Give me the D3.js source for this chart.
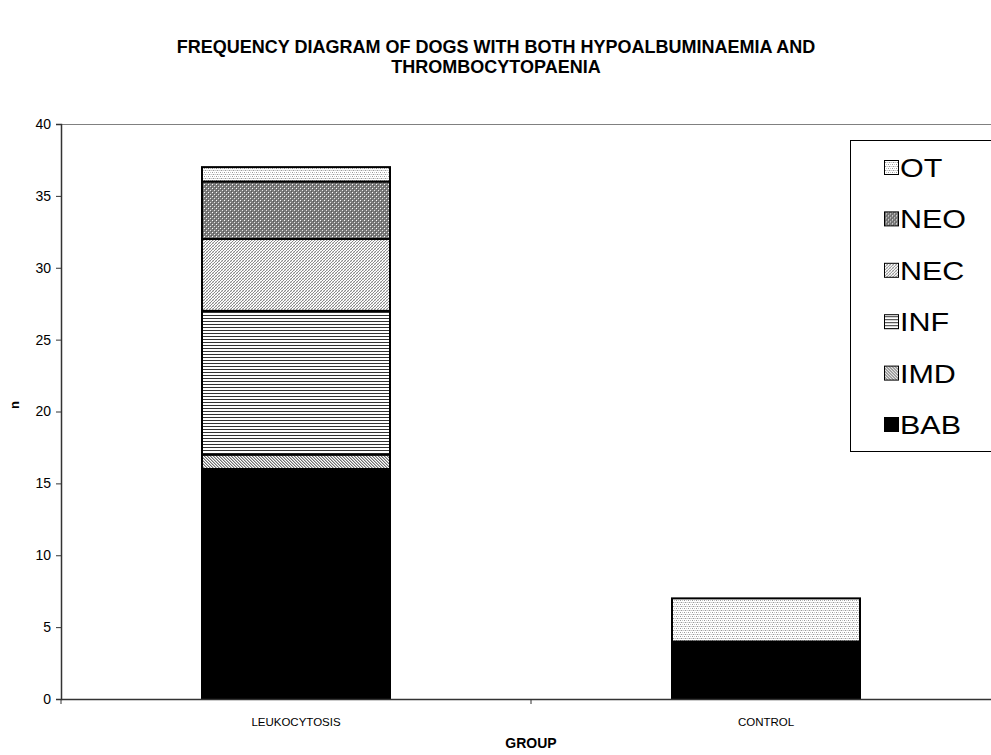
<!DOCTYPE html>
<html>
<head>
<meta charset="utf-8">
<script src="https://cdn.jsdelivr.net/npm/d3@7"></script>
<style>
  html, body { margin: 0; padding: 0; background: #fff; }
  svg { display: block; font-family: "Liberation Sans", Arial, sans-serif; }
</style>
</head>
<body>
<svg id="chart" width="991" height="755"></svg>
<script>
// Diagnosis groups, stacked from the bottom up
const groups = ["LEUKOCYTOSIS", "CONTROL"];
const diagnoses = ["BAB", "IMD", "INF", "NEC", "NEO", "OT"];
const BAB = [16, 4];
const IMD = [1, 0];
const INF = [10, 0];
const NEC = [5, 0];
const NEO = [4, 0];
const OT  = [1, 3];
const yTicks = [0, 5, 10, 15, 20, 25, 30, 35, 40];

const seriesValues = { BAB, IMD, INF, NEC, NEO, OT };
const rows = groups.map((g, i) => {
  const r = { group: g };
  diagnoses.forEach(d => { r[d] = seriesValues[d][i]; });
  return r;
});

const svg = d3.select("#chart");
const defs = svg.append("defs");

// Monochrome fill patterns built pixel by pixel
function pixelPattern(id, size, bg, pixels) {
  const p = defs.append("pattern")
    .attr("id", id)
    .attr("patternUnits", "userSpaceOnUse")
    .attr("width", size).attr("height", size);
  p.append("rect").attr("width", size).attr("height", size).attr("fill", bg);
  pixels.forEach(([x, y, c]) => {
    p.append("rect").attr("x", x).attr("y", y).attr("width", 1).attr("height", 1)
      .attr("fill", c).attr("shape-rendering", "crispEdges");
  });
}
pixelPattern("pat-OT", 4, "#ffffff", [[0,0,"#9a9a9a"],[2,0,"#c8c8c8"],[1,2,"#9a9a9a"],[3,2,"#c8c8c8"],[0,2,"#e0e0e0"],[2,2,"#e0e0e0"]]);
pixelPattern("pat-NEO", 4, "#7c7c7c", [[0,0,"#ffffff"],[2,2,"#e6e6e6"],[1,1,"#5a5a5a"],[3,3,"#5a5a5a"]]);
pixelPattern("pat-NEC", 3, "#ffffff", [[2,0,"#8a8a8a"],[1,1,"#8a8a8a"],[0,2,"#8a8a8a"],[0,0,"#d8d8d8"],[2,2,"#d8d8d8"]]);
pixelPattern("pat-IMD", 3, "#ffffff", [[0,0,"#707070"],[1,1,"#707070"],[2,2,"#707070"],[1,0,"#b8b8b8"],[2,1,"#b8b8b8"],[0,2,"#b8b8b8"]]);
pixelPattern("pat-INF", 3, "#ffffff", [[0,0,"#333"],[1,0,"#333"],[2,0,"#333"]]);
const fills = {
  BAB: "#000000",
  IMD: "url(#pat-IMD)",
  INF: "url(#pat-INF)",
  NEC: "url(#pat-NEC)",
  NEO: "url(#pat-NEO)",
  OT:  "url(#pat-OT)"
};

const plot = { left: 61, top: 124, right: 1001, bottom: 699 };

const x = d3.scaleBand()
  .domain(groups)
  .range([plot.left, plot.right])
  .paddingInner(0.6).paddingOuter(0.3);
const y = d3.scaleLinear().domain([0, 40]).range([plot.bottom, plot.top]);

// Plot frame (top edge)
svg.append("line")
  .attr("x1", plot.left).attr("x2", plot.right)
  .attr("y1", plot.top + 0.5).attr("y2", plot.top + 0.5)
  .attr("stroke", "#808080").attr("stroke-width", 1);

// Stacked bars
const stack = d3.stack().keys(diagnoses)(rows);
const layer = svg.append("g").selectAll("g").data(stack).join("g")
  .attr("fill", d => fills[d.key]);
layer.selectAll("rect")
  .data(d => d.filter(s => s[1] - s[0] > 0))
  .join("rect")
  .attr("x", d => x(d.data.group))
  .attr("y", d => y(d[1]))
  .attr("width", x.bandwidth())
  .attr("height", d => y(d[0]) - y(d[1]))
  .attr("stroke", "#000")
  .attr("stroke-width", 2);

// Y axis
const yAxis = svg.append("g")
  .attr("transform", `translate(${plot.left},0)`)
  .call(d3.axisLeft(y).tickValues(yTicks).tickSize(5).tickPadding(5));
yAxis.select(".domain").attr("stroke", "#333").attr("stroke-width", 1.5);
yAxis.selectAll(".tick line").attr("stroke", "#333");
yAxis.selectAll(".tick text").attr("font-size", 14).attr("fill", "#000")
  .attr("font-family", "Liberation Sans, Arial, sans-serif");

// X axis with tick marks between groups
const xAxis = svg.append("g")
  .attr("transform", `translate(0,${plot.bottom})`)
  .call(d3.axisBottom(x).tickSize(0).tickPadding(19));
xAxis.select(".domain").attr("stroke", "#333").attr("stroke-width", 1.5);
xAxis.selectAll(".tick text").attr("font-size", 11.5).attr("fill", "#000")
  .attr("font-family", "Liberation Sans, Arial, sans-serif");
const dividers = [plot.left, (x(groups[0]) + x.bandwidth() + x(groups[1])) / 2];
svg.append("g").selectAll("line").data(dividers).join("line")
  .attr("x1", d => d).attr("x2", d => d)
  .attr("y1", plot.bottom).attr("y2", plot.bottom + 5)
  .attr("stroke", "#333");

// Axis titles
svg.append("text")
  .attr("x", 531).attr("y", 748)
  .attr("text-anchor", "middle").attr("font-size", 14).attr("font-weight", "bold")
  .text("GROUP");
svg.append("text")
  .attr("transform", "translate(19,405) rotate(-90)")
  .attr("text-anchor", "middle").attr("font-size", 13).attr("font-weight", "bold")
  .text("n");

// Title
const title = svg.append("text")
  .attr("text-anchor", "middle").attr("font-size", 18).attr("font-weight", "bold");
title.append("tspan").attr("x", 496).attr("y", 53)
  .text("FREQUENCY DIAGRAM OF DOGS WITH BOTH HYPOALBUMINAEMIA AND");
title.append("tspan").attr("x", 496).attr("y", 73)
  .text("THROMBOCYTOPAENIA");

// Legend
const legend = svg.append("g");
legend.append("rect")
  .attr("x", 850.5).attr("y", 140.5).attr("width", 160).attr("height", 311)
  .attr("fill", "#fff").attr("stroke", "#000").attr("stroke-width", 1);
const legendOrder = diagnoses.slice().reverse();
const item = legend.selectAll("g.item").data(legendOrder).join("g")
  .attr("class", "item")
  .attr("transform", (d, i) => `translate(884,${168 + i * 51.4})`);
item.append("rect")
  .attr("x", 0.5).attr("y", -7.5).attr("width", 14).attr("height", 14)
  .attr("fill", d => fills[d]).attr("stroke", "#000").attr("stroke-width", 1);
item.append("text")
  .attr("transform", "translate(16,9) scale(1.22,1)")
  .attr("font-size", 25).attr("fill", "#000")
  .text(d => d);
</script>
</body>
</html>
